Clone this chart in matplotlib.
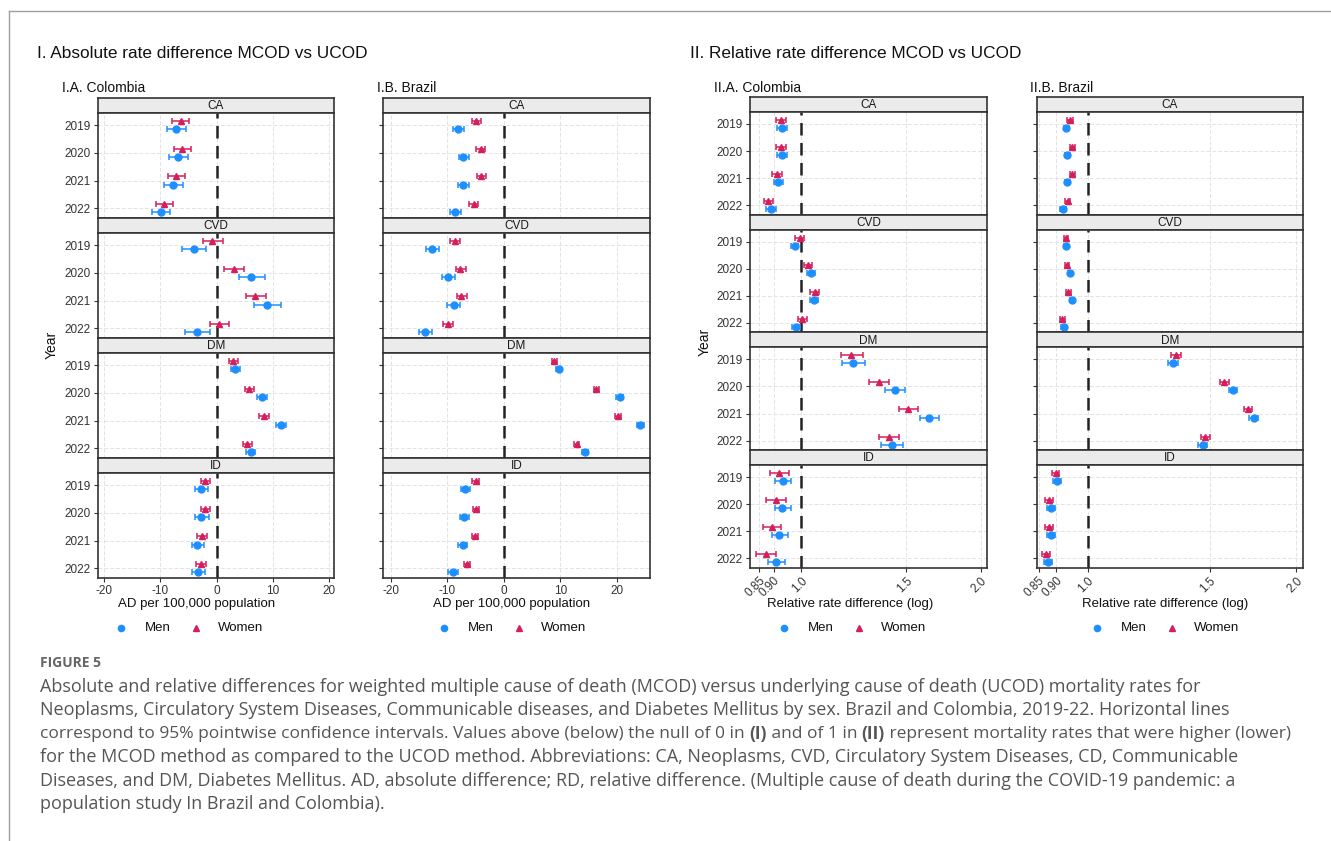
import numpy as np
import matplotlib
matplotlib.use("Agg")
import matplotlib.pyplot as plt
from matplotlib.lines import Line2D

plt.rcParams['font.family'] = ['Liberation Sans', 'DejaVu Sans']

W, H = 1331, 841

years = [2019, 2020, 2021, 2022]
causes = ["CA", "CVD", "DM", "ID"]

# values ordered cause by cause (CA, CVD, DM, ID), years 2019..2022 inside each
# I.A Colombia - absolute difference
col_ad_men = [-7.2, -6.9, -7.8, -9.9, -4.0, 6.2, 9.0, -3.4, 3.3, 8.0, 11.4, 6.1, -2.7, -2.7, -3.4, -3.3]
col_ad_men_lo = [-8.9, -8.5, -9.4, -11.5, -6.2, 4.0, 6.6, -5.6, 2.5, 7.2, 10.5, 5.3, -3.8, -3.8, -4.4, -4.4]
col_ad_men_hi = [-5.4, -5.1, -6.0, -8.2, -1.8, 8.6, 11.4, -1.1, 4.1, 8.9, 12.4, 6.9, -1.5, -1.4, -2.2, -2.1]
col_ad_women = [-6.4, -6.1, -7.2, -9.3, -0.8, 3.1, 6.9, 0.4, 3.0, 5.7, 8.4, 5.5, -2.0, -2.0, -2.6, -2.7]
col_ad_women_lo = [-7.9, -7.6, -8.7, -10.7, -2.5, 1.4, 5.2, -1.2, 2.3, 5.0, 7.6, 4.7, -2.8, -2.8, -3.4, -3.6]
col_ad_women_hi = [-4.9, -4.6, -5.7, -7.8, 1.1, 4.9, 8.8, 2.2, 3.8, 6.6, 9.4, 6.3, -1.1, -1.1, -1.7, -1.8]

# I.B Brazil - absolute difference
bra_ad_men = [-8.1, -7.2, -7.2, -8.6, -12.8, -9.9, -8.9, -14.0, 9.7, 20.5, 24.2, 14.4, -6.9, -7.0, -7.3, -9.0]
bra_ad_men_lo = [-9.0, -8.0, -8.1, -9.5, -13.8, -11.0, -10.0, -15.1, 9.2, 19.9, 23.6, 13.9, -7.6, -7.8, -8.1, -9.8]
bra_ad_men_hi = [-7.1, -6.2, -6.2, -7.6, -11.5, -8.7, -7.7, -12.8, 10.2, 21.1, 24.8, 15.0, -6.0, -6.2, -6.5, -8.2]
bra_ad_women = [-4.9, -4.0, -4.0, -5.3, -8.7, -7.7, -7.5, -9.9, 8.9, 16.3, 20.2, 12.9, -5.0, -5.0, -5.1, -6.6]
bra_ad_women_lo = [-5.6, -4.9, -4.8, -6.1, -9.6, -8.5, -8.3, -10.8, 8.5, 15.9, 19.7, 12.4, -5.6, -5.5, -5.7, -7.1]
bra_ad_women_hi = [-4.1, -3.3, -3.1, -4.5, -7.8, -6.7, -6.6, -9.0, 9.4, 16.9, 20.7, 13.4, -4.4, -4.4, -4.6, -6.0]

# II.A Colombia - relative difference
col_rd_men = [0.928, 0.928, 0.915, 0.889, 0.975, 1.039, 1.050, 0.981, 1.222, 1.436, 1.641, 1.419, 0.933, 0.930, 0.920, 0.907]
col_rd_men_lo = [0.911, 0.911, 0.899, 0.874, 0.960, 1.023, 1.034, 0.966, 1.170, 1.381, 1.583, 1.362, 0.903, 0.903, 0.894, 0.880]
col_rd_men_hi = [0.947, 0.947, 0.934, 0.908, 0.990, 1.055, 1.066, 0.996, 1.279, 1.492, 1.706, 1.480, 0.961, 0.960, 0.949, 0.938]
col_rd_women = [0.924, 0.924, 0.910, 0.880, 0.995, 1.027, 1.054, 1.005, 1.214, 1.350, 1.512, 1.405, 0.920, 0.907, 0.894, 0.872]
col_rd_women_lo = [0.908, 0.908, 0.893, 0.865, 0.978, 1.010, 1.037, 0.988, 1.166, 1.300, 1.460, 1.351, 0.887, 0.875, 0.864, 0.841]
col_rd_women_hi = [0.945, 0.945, 0.929, 0.897, 1.013, 1.045, 1.072, 1.022, 1.269, 1.403, 1.569, 1.462, 0.954, 0.943, 0.927, 0.906]

# II.B Brazil - relative difference
bra_rd_men = [0.931, 0.935, 0.935, 0.921, 0.930, 0.943, 0.950, 0.923, 1.329, 1.621, 1.736, 1.465, 0.903, 0.886, 0.886, 0.877]
bra_rd_men_lo = [0.923, 0.927, 0.927, 0.913, 0.923, 0.936, 0.943, 0.916, 1.308, 1.597, 1.711, 1.443, 0.892, 0.875, 0.875, 0.866]
bra_rd_men_hi = [0.940, 0.944, 0.944, 0.930, 0.937, 0.950, 0.957, 0.930, 1.350, 1.645, 1.761, 1.487, 0.914, 0.897, 0.897, 0.888]
bra_rd_women = [0.943, 0.950, 0.950, 0.936, 0.930, 0.934, 0.938, 0.919, 1.341, 1.575, 1.703, 1.478, 0.899, 0.879, 0.879, 0.871]
bra_rd_women_lo = [0.935, 0.942, 0.942, 0.928, 0.923, 0.927, 0.931, 0.912, 1.320, 1.552, 1.679, 1.456, 0.888, 0.868, 0.868, 0.860]
bra_rd_women_hi = [0.952, 0.958, 0.958, 0.944, 0.937, 0.941, 0.945, 0.926, 1.362, 1.598, 1.727, 1.500, 0.910, 0.890, 0.890, 0.882]

ad_ticks = [-20, -10, 0, 10, 20]
rd_ticks = [0.85, 0.90, 1.0, 1.5, 2.0]
rd_tick_labels = ["0.85", "0.90", "1.0", "1.5", "2.0"]

MEN_C = "#1E8FFF"
WOMEN_C = "#D41F5C"
EDGE = "#333333"
TXT = "#111111"

fig = plt.figure(figsize=(W / 100, H / 100), dpi=100)


def px_axes(x0, y0, x1, y1):
    return fig.add_axes([x0 / W, 1 - y1 / H, (x1 - x0) / W, (y1 - y0) / H])


def fx(x):
    return x / W


def fy(y):
    return 1 - y / H


# page frame lines
fig.add_artist(Line2D([fx(9), 1], [fy(11), fy(11)], color="#a0a0a0", lw=1))
fig.add_artist(Line2D([fx(9), fx(9)], [fy(11), 0], color="#a0a0a0", lw=1))


def draw_column(x0, x1, top0, period, panel_h, men, men_lo, men_hi,
                women, women_lo, women_hi, xlim, log, show_years):
    yidx = np.arange(4)
    for i, cause in enumerate(causes):
        top = top0 + i * period
        sax = px_axes(x0, top, x1, top + 15)
        sax.set_facecolor("#EBEBEB")
        sax.set_xticks([])
        sax.set_yticks([])
        for s in sax.spines.values():
            s.set_color(EDGE)
            s.set_linewidth(1.2)
        sax.text(0.5, 0.45, cause, ha="center", va="center", fontsize=8.5,
                 color="#1a1a1a", transform=sax.transAxes)

        ax = px_axes(x0, top + 15, x1, top + 15 + panel_h)
        sl = slice(i * 4, i * 4 + 4)
        m = np.array(men[sl]); ml = np.array(men_lo[sl]); mh = np.array(men_hi[sl])
        w = np.array(women[sl]); wl = np.array(women_lo[sl]); wh = np.array(women_hi[sl])

        if log:
            ax.set_xscale("log")
        ax.axvline(1.0 if log else 0, color="#222222", lw=1.8, ls=(0, (5, 3)), zorder=2)

        ax.errorbar(w, yidx - 0.15, xerr=[w - wl, wh - w], fmt="^", color=WOMEN_C,
                    ms=5, elinewidth=1.1, capsize=2.2, capthick=1.1, zorder=3)
        ax.errorbar(m, yidx + 0.15, xerr=[m - ml, mh - m], fmt="o", color=MEN_C,
                    ms=5, elinewidth=1.1, capsize=2.2, capthick=1.1, zorder=3)

        ax.set_xlim(*xlim)
        ax.set_ylim(3.35, -0.44)
        ax.set_yticks(yidx)
        if show_years:
            ax.set_yticklabels([str(y) for y in years], fontsize=8.5, color="#333333")
        else:
            ax.set_yticklabels([])
        if log:
            ax.set_xticks(rd_ticks)
            ax.minorticks_off()
        else:
            ax.set_xticks(ad_ticks)
        ax.grid(True, color="#e3e3e3", lw=0.7, ls=(0, (4, 2)))
        ax.set_axisbelow(True)
        ax.tick_params(axis="both", length=3, width=0.8, color="#333333", pad=2)
        for s in ax.spines.values():
            s.set_color(EDGE)
            s.set_linewidth(1.2)
        if i < 3:
            ax.set_xticklabels([])
            ax.tick_params(axis="x", length=0)
        elif log:
            ax.set_xticklabels(rd_tick_labels, rotation=45, ha="right", va="top",
                               rotation_mode="anchor", fontsize=8.5, color="#333333")
        else:
            ax.set_xticklabels([str(t) for t in ad_ticks], fontsize=8.5, color="#333333")


draw_column(98, 334, 98, 120, 105, col_ad_men, col_ad_men_lo, col_ad_men_hi,
            col_ad_women, col_ad_women_lo, col_ad_women_hi, (-21.1, 20.9), False, True)
draw_column(383, 650, 98, 120, 105, bra_ad_men, bra_ad_men_lo, bra_ad_men_hi,
            bra_ad_women, bra_ad_women_lo, bra_ad_women_hi, (-21.4, 25.9), False, False)
draw_column(750, 987, 97, 117.7, 102.7, col_rd_men, col_rd_men_lo, col_rd_men_hi,
            col_rd_women, col_rd_women_lo, col_rd_women_hi, (0.821, 2.05), True, True)
draw_column(1037, 1303, 97, 117.7, 102.7, bra_rd_men, bra_rd_men_lo, bra_rd_men_hi,
            bra_rd_women, bra_rd_women_lo, bra_rd_women_hi, (0.845, 2.045), True, False)

# titles
fig.text(fx(37), fy(53), "I. Absolute rate difference MCOD vs UCOD", fontsize=12.4,
         ha="left", va="center", color=TXT)
fig.text(fx(690), fy(53), "II. Relative rate difference MCOD vs UCOD", fontsize=12.4,
         ha="left", va="center", color=TXT)
for x, s in [(62, "I.A. Colombia"), (377, "I.B. Brazil"),
             (714, "II.A. Colombia"), (1030, "II.B. Brazil")]:
    fig.text(fx(x), fy(88), s, fontsize=10, ha="left", va="center", color=TXT)

for x, y in [(52, 345), (705, 342)]:
    fig.text(fx(x), fy(y), "Year", fontsize=10, rotation=90, ha="center",
             va="center", color=TXT)

# x labels and legends (placed under the full plot area, as ggplot does)
for cx, dot_x, lab in [(197, 121, "AD per 100,000 population"),
                       (512, 444, "AD per 100,000 population"),
                       (850, 784, "Relative rate difference (log)"),
                       (1165, 1097, "Relative rate difference (log)")]:
    fig.text(fx(cx), fy(604), lab, fontsize=9.5, ha="center", va="center", color=TXT)
    fig.add_artist(Line2D([fx(dot_x)], [fy(628)], marker="o", ls="none",
                          color=MEN_C, ms=4.5))
    fig.text(fx(dot_x + 24), fy(628), "Men", fontsize=9.5, ha="left", va="center", color=TXT)
    fig.add_artist(Line2D([fx(dot_x + 75)], [fy(628)], marker="^", ls="none",
                          color=WOMEN_C, ms=4.5))
    fig.text(fx(dot_x + 97), fy(628), "Women", fontsize=9.5, ha="left", va="center", color=TXT)

# caption
CAP_C = "#555555"
cap_font = ["Open Sans", "DejaVu Sans"]
fig.text(fx(40), fy(663), "FIGURE 5", fontsize=10, fontweight="bold", color="#666666",
         family=cap_font, ha="left", va="center")

cap_lines = [
    [("Absolute and relative differences for weighted multiple cause of death (MCOD) versus underlying cause of death (UCOD) mortality rates for", "normal")],
    [("Neoplasms, Circulatory System Diseases, Communicable diseases, and Diabetes Mellitus by sex. Brazil and Colombia, 2019-22. Horizontal lines", "normal")],
    [("correspond to 95% pointwise confidence intervals. Values above (below) the null of 0 in ", "normal"),
     ("(I)", "bold"), (" and of 1 in ", "normal"), ("(II)", "bold"),
     (" represent mortality rates that were higher (lower)", "normal")],
    [("for the MCOD method as compared to the UCOD method. Abbreviations: CA, Neoplasms, CVD, Circulatory System Diseases, CD, Communicable", "normal")],
    [("Diseases, and DM, Diabetes Mellitus. AD, absolute difference; RD, relative difference. (Multiple cause of death during the COVID-19 pandemic: a", "normal")],
    [("population study In Brazil and Colombia).", "normal")],
]
cap_y = [687, 710, 734, 757, 781, 804]
cap_sizes = [12.95, 12.95, 12.5, 12.95, 12.95, 12.95]

renderer = fig.canvas.get_renderer()
for segs, y, fs in zip(cap_lines, cap_y, cap_sizes):
    x = fx(40)
    for s, wgt in segs:
        t = fig.text(x, fy(y), s, fontsize=fs, fontweight=wgt, color=CAP_C,
                     family=cap_font, ha="left", va="center")
        bb = t.get_window_extent(renderer=renderer)
        x += bb.width / W

fig.savefig("out.png", dpi=100)
